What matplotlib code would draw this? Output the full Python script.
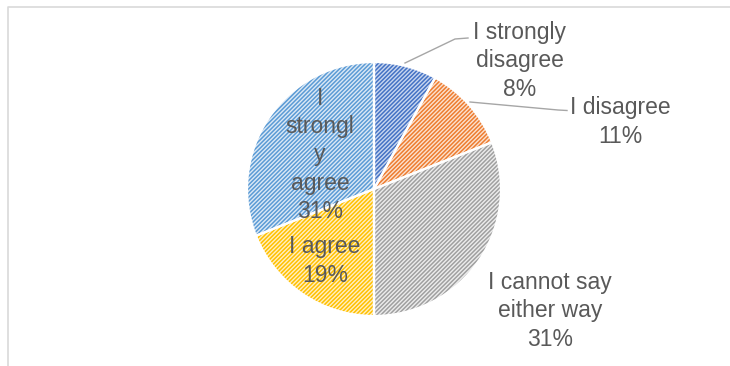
import matplotlib
matplotlib.use("Agg")
import matplotlib.pyplot as plt
from matplotlib.lines import Line2D

categories = ["I strongly disagree", "I disagree", "I cannot say either way", "I agree", "I strongly agree"]
values = [8, 11, 31, 19, 31]
label_texts = ["I strongly\ndisagree\n8%", "I disagree\n11%", "I cannot say\neither way\n31%",
               "I agree\n19%", "I\nstrongl\ny\nagree\n31%"]

hatch_colors = ["#4472C4", "#ED7D31", "#A0A0A0", "#FFC000", "#5B9BD5"]
bg_colors = ["#C9D7F0", "#FCE2D0", "#EDEDED", "#FFF0C4", "#DCE9F6"]

W, H = 730, 366
fig = plt.figure(figsize=(W / 100, H / 100), dpi=100)
plt.rcParams['hatch.linewidth'] = 1.1

cx, cy, r = 374, 189, 127
ax = fig.add_axes([(cx - r) / W, (H - cy - r) / H, 2 * r / W, 2 * r / H])

# background fills
ax.pie(values, startangle=90, counterclock=False, colors=bg_colors,
       wedgeprops=dict(linewidth=0), radius=1)
# hatch layer
wedges, _ = ax.pie(values, startangle=90, counterclock=False, colors=bg_colors,
                   wedgeprops=dict(linewidth=0), radius=1)
for w, hc in zip(wedges, hatch_colors):
    w.set_facecolor("none")
    w.set_edgecolor(hc)
    w.set_hatch("////////")
    w.set_linewidth(0)
# white separators
ax.pie(values, startangle=90, counterclock=False, colors=["none"] * len(values),
       wedgeprops=dict(linewidth=1.6, edgecolor="white"), radius=1)

ax.set_xlim(-1, 1)
ax.set_ylim(-1, 1)
ax.set_aspect("auto")
ax.axis("off")

def d(px, py):
    return (px - cx) / r, (cy - py) / r

text_pos = [d(519.5, 61), d(620, 122), d(549.7, 311), d(325, 261), d(320, 155)]
for t, (x, y) in zip(label_texts, text_pos):
    ax.text(x, y, t, ha="center", va="center", fontsize=16.5, color="#595959",
            family=["Liberation Sans", "DejaVu Sans"], linespacing=1.3)

# leader lines
leaders = [
    [d(405, 63), d(455, 39), d(468, 38)],
    [d(470, 102), d(558, 110), d(567, 110.5)],
]
for pts in leaders:
    xs = [p[0] for p in pts]
    ys = [p[1] for p in pts]
    ax.plot(xs, ys, color="#A6A6A6", linewidth=1.0, clip_on=False)

# chart area frame (partially visible)
fig.add_artist(Line2D([7.5 / W, 7.5 / W, 1.0], [0.0, 1 - 6.5 / H, 1 - 6.5 / H],
                      transform=fig.transFigure, color="#D9D9D9", linewidth=1.2))

fig.savefig("out.png", dpi=100)
